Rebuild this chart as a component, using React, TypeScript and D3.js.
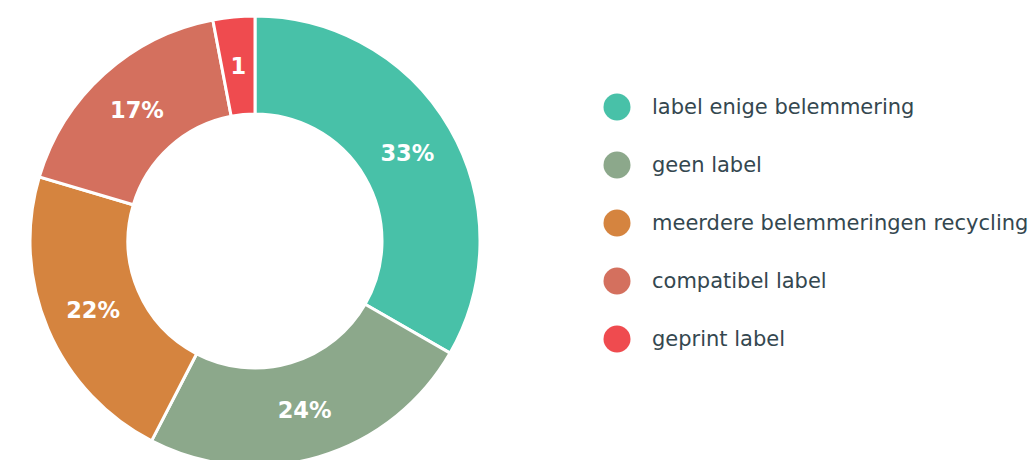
import React from "react";
import * as d3 from "d3";

const categories = [
  "label enige belemmering",
  "geen label",
  "meerdere belemmeringen recycling",
  "compatibel label",
  "geprint label",
];
const values = [33.3, 24.3, 22.0, 17.4, 3.0];
const sliceLabels = ["33%", "24%", "22%", "17%", "1"];
const colors = ["#48C1A8", "#8CA88B", "#D5843F", "#D4705E", "#EF4B4F"];

export default function App() {
  const width = 1034;
  const height = 460;
  const cx = 255;
  const cy = 241;
  const outerR = 225;
  const innerR = 127;

  const pie = d3.pie<number>().sort(null).value((d) => d);
  const arcs = pie(values);
  const arc = d3.arc<d3.PieArcDatum<number>>().innerRadius(innerR).outerRadius(outerR);

  const legendX = 617;
  const legendY0 = 107;
  const legendStep = 58;

  return (
    <svg
      width={width}
      height={height}
      style={{ position: "absolute", left: 0, top: 0, background: "#fff" }}
    >
      <g transform={`translate(${cx},${cy})`}>
        {arcs.map((a, i) => (
          <path key={i} d={arc(a) || ""} fill={colors[i]} stroke="#fff" strokeWidth={3} />
        ))}
        {arcs.map((a, i) => {
          const [x, y] = arc.centroid(a);
          return (
            <text
              key={"t" + i}
              x={x}
              y={y}
              textAnchor="middle"
              dominantBaseline="central"
              fill="#fff"
              fontFamily="'DejaVu Sans', sans-serif"
              fontWeight="bold"
              fontSize={22.5}
            >
              {sliceLabels[i]}
            </text>
          );
        })}
      </g>
      {categories.map((c, i) => (
        <g key={"l" + i} transform={`translate(${legendX},${legendY0 + i * legendStep})`}>
          <circle r={13.5} fill={colors[i]} />
          <text
            x={35}
            y={0}
            dominantBaseline="central"
            fill="#34474F"
            fontFamily="'DejaVu Sans', sans-serif"
            fontSize={21}
          >
            {c}
          </text>
        </g>
      ))}
    </svg>
  );
}
